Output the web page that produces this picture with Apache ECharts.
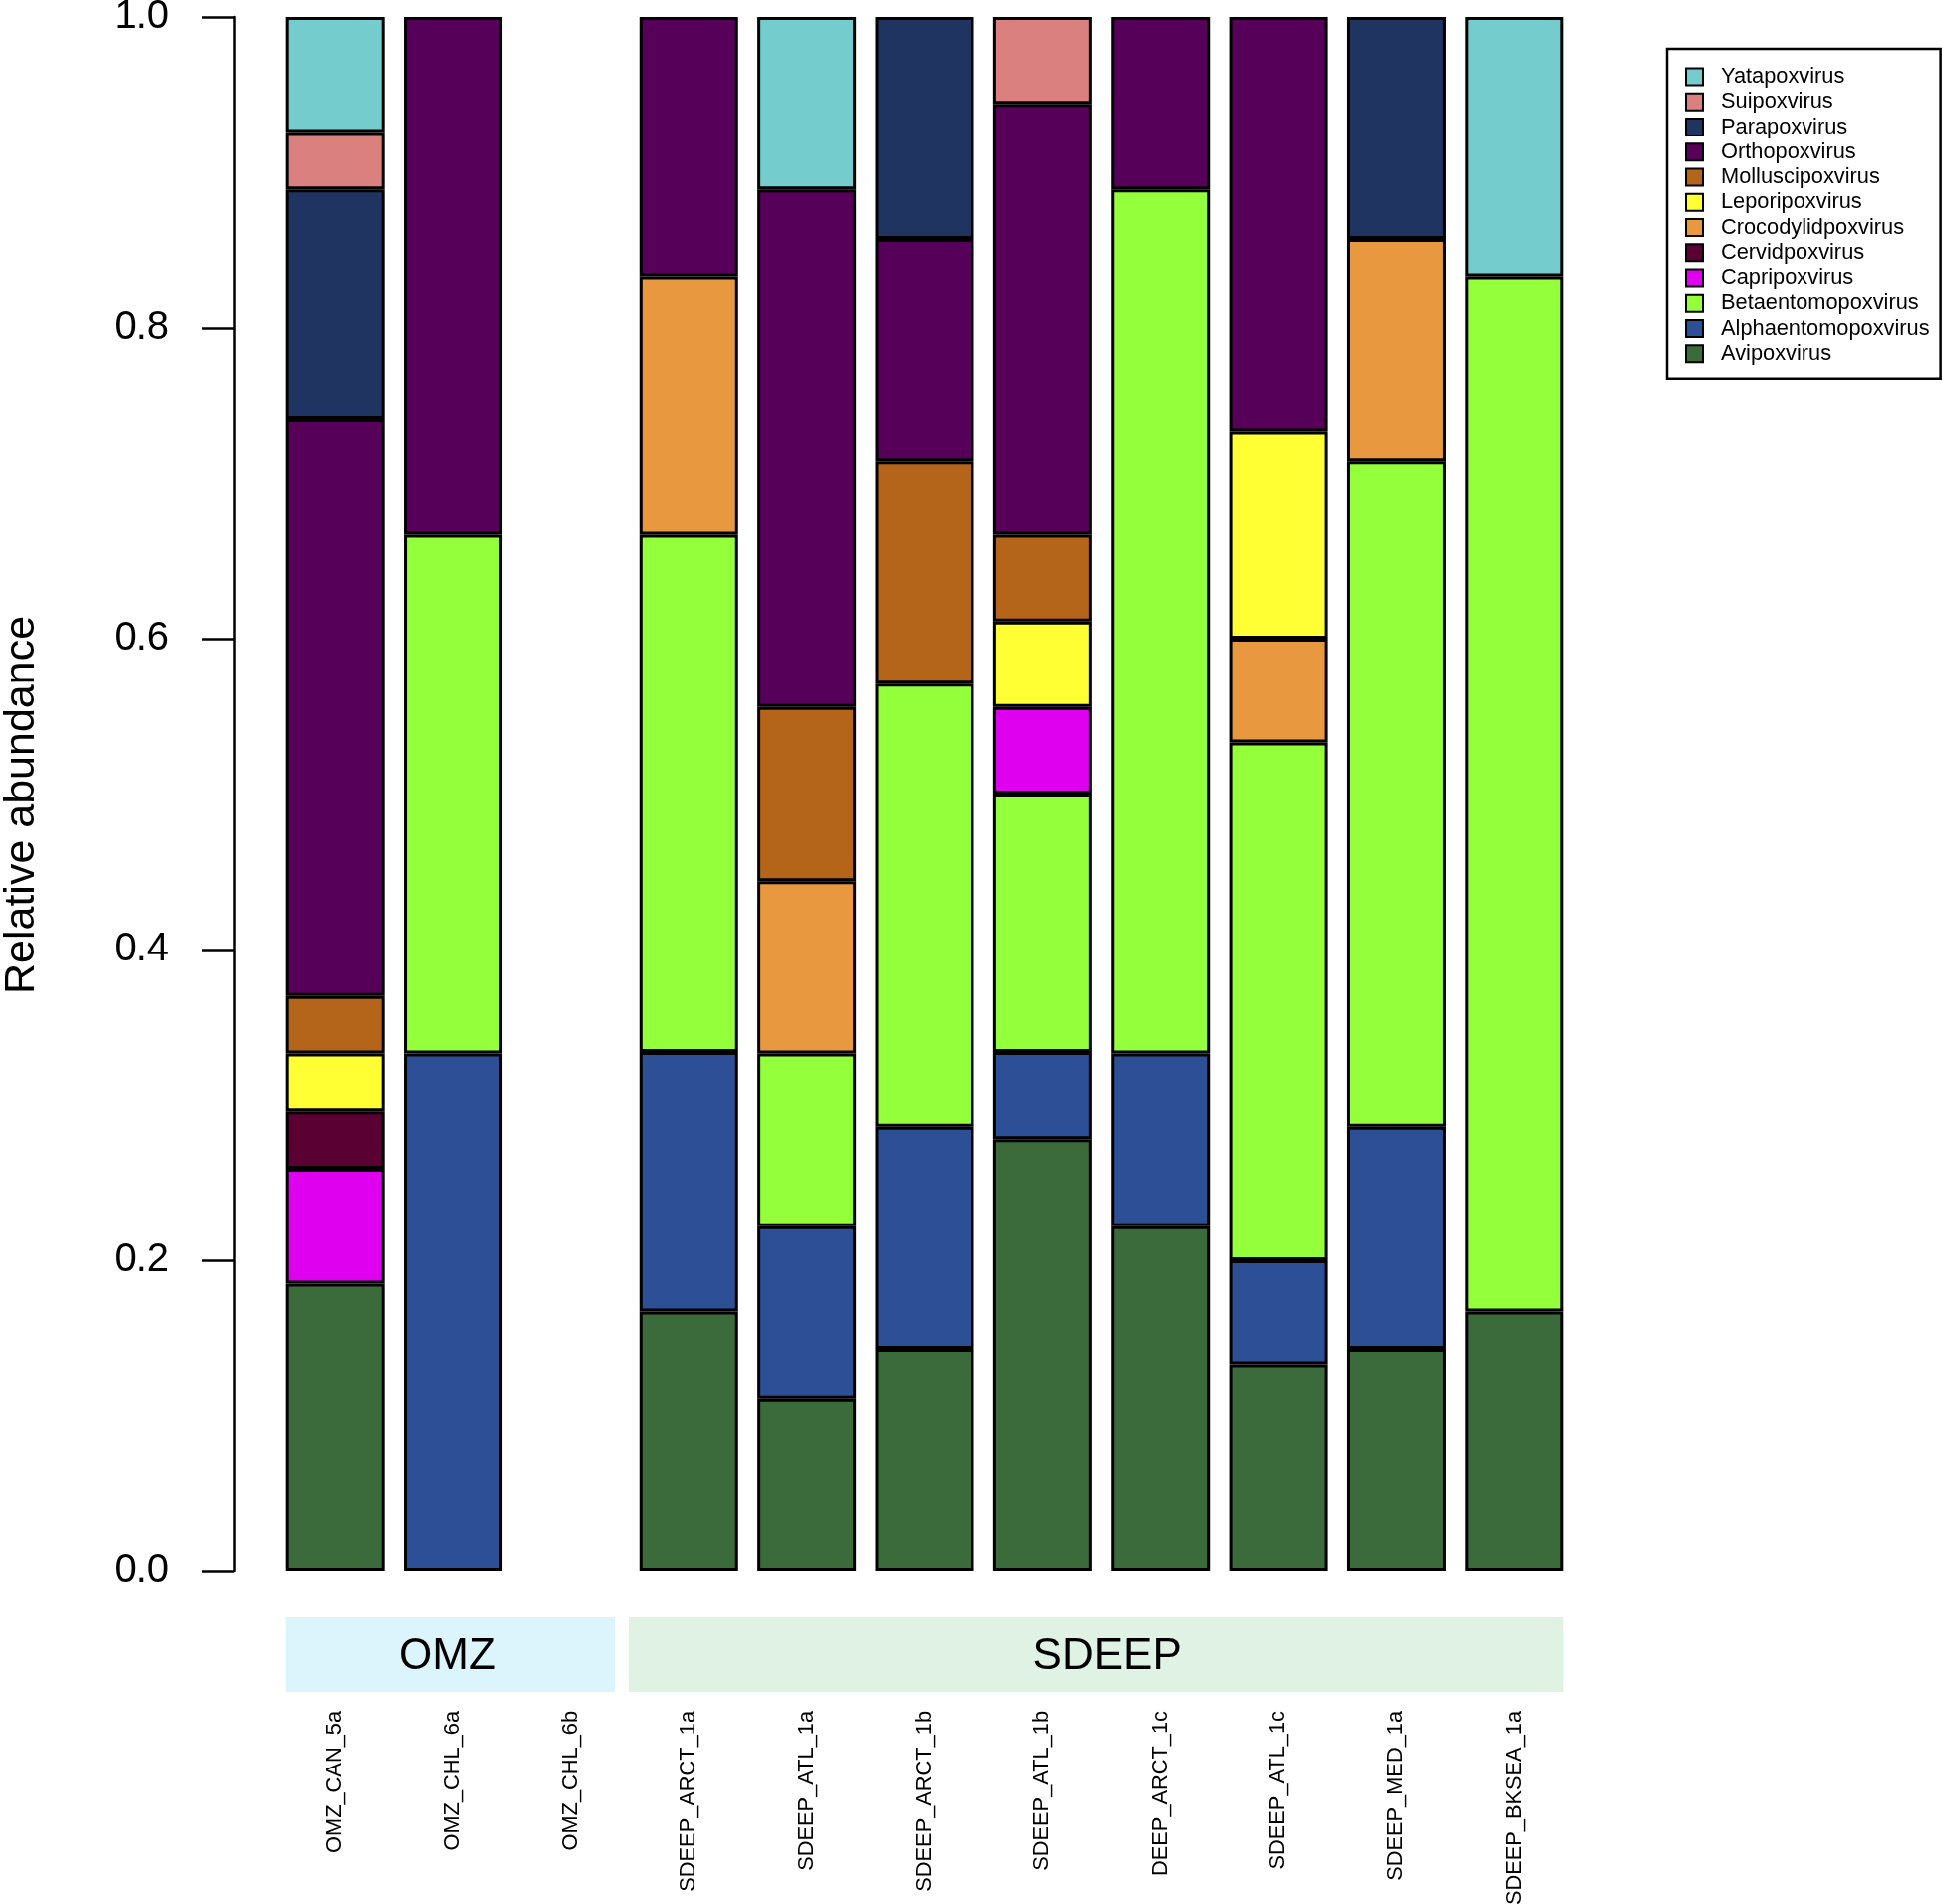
<!DOCTYPE html>
<html>
<head>
<meta charset="utf-8">
<script src="https://cdn.jsdelivr.net/npm/echarts@6/dist/echarts.min.js"></script>
<style>html,body{margin:0;padding:0;background:#fff;}#main{width:1950px;height:1911px;}</style>
</head>
<body>
<div id="main"></div>
<script>
// ---- data ----
const samples = ['OMZ_CAN_5a','OMZ_CHL_6a','OMZ_CHL_6b','SDEEP_ARCT_1a','SDEEP_ATL_1a','SDEEP_ARCT_1b','SDEEP_ATL_1b','DEEP_ARCT_1c','SDEEP_ATL_1c','SDEEP_MED_1a','SDEEP_BKSEA_1a'];
const groups = ['OMZ','SDEEP'];
const groupOf = ['OMZ','OMZ','OMZ','SDEEP','SDEEP','SDEEP','SDEEP','SDEEP','SDEEP','SDEEP','SDEEP'];
const yTicks = [0, 0.2, 0.4, 0.6, 0.8, 1.0];

// stacked from bottom to top
const taxa = ['Avipoxvirus','Alphaentomopoxvirus','Betaentomopoxvirus','Capripoxvirus','Cervidpoxvirus','Crocodylidpoxvirus','Leporipoxvirus','Molluscipoxvirus','Orthopoxvirus','Parapoxvirus','Suipoxvirus','Yatapoxvirus'];
const avipox       = [0.185, null,  null, 0.167, 0.111, 0.143, 0.278, 0.222, 0.133, 0.143, 0.167];
const alphaento    = [null,  0.333, null, 0.167, 0.111, 0.143, 0.056, 0.111, 0.067, 0.143, null];
const betaento     = [null,  0.334, null, 0.333, 0.111, 0.285, 0.166, 0.556, 0.333, 0.428, 0.666];
const capripox     = [0.074, null,  null, null,  null,  null,  0.056, null,  null,  null,  null];
const cervidpox    = [0.037, null,  null, null,  null,  null,  null,  null,  null,  null,  null];
const crocodylid   = [null,  null,  null, 0.166, 0.111, null,  null,  null,  0.067, 0.143, null];
const leporipox    = [0.037, null,  null, null,  null,  null,  0.055, null,  0.133, null,  null];
const molluscipox  = [0.037, null,  null, null,  0.112, 0.143, 0.056, null,  null,  null,  null];
const orthopox     = [0.371, 0.333, null, 0.167, 0.333, 0.143, 0.277, 0.111, 0.267, null,  null];
const parapox      = [0.148, null,  null, null,  null,  0.143, null,  null,  null,  0.143, null];
const suipox       = [0.037, null,  null, null,  null,  null,  0.056, null,  null,  null,  null];
const yatapox      = [0.074, null,  null, null,  0.111, null,  null,  null,  null,  null,  0.167];
const taxaValues = [avipox, alphaento, betaento, capripox, cervidpox, crocodylid, leporipox, molluscipox, orthopox, parapox, suipox, yatapox];
const taxaColors = ['#3B6A3B','#2C4F96','#94FF3B','#E000F0','#5B0033','#E8993F','#FFFF33','#B5651A','#560059','#1F3461','#DA8180','#74CCCC'];

const FONT = '"Liberation Sans", Arial, Helvetica, sans-serif';
const chart = echarts.init(document.getElementById('main'), null, {renderer: 'canvas'});

const series = taxa.map((name, i) => ({
  name: name,
  type: 'bar',
  stack: 'total',
  barWidth: 99,
  data: taxaValues[i],
  itemStyle: {color: taxaColors[i], borderColor: '#000', borderWidth: 3},
  emphasis: {disabled: true}
}));

chart.setOption({
  animation: false,
  backgroundColor: '#fff',
  grid: {left: 277, right: 371, top: 17, bottom: 334, containLabel: false, outerBoundsMode: 'none'},
  xAxis: {
    type: 'category',
    data: samples,
    boundaryGap: true,
    axisLine: {show: false},
    axisTick: {show: false},
    axisLabel: {rotate: 90, margin: 140, fontSize: 21.8, color: '#000', fontFamily: FONT, interval: 0}
  },
  yAxis: {
    type: 'value',
    min: 0, max: 1, interval: 0.2,
    offset: 42,
    name: 'Relative abundance',
    nameLocation: 'middle',
    nameGap: 191,
    nameTextStyle: {fontSize: 43, color: '#000', fontFamily: FONT, padding: [0, 22, 0, 0]},
    axisLine: {show: true, lineStyle: {color: '#000', width: 2.5}},
    axisTick: {show: true, length: 32, lineStyle: {color: '#000', width: 2.5}},
    axisLabel: {margin: 65, fontSize: 40, color: '#000', fontFamily: FONT, formatter: v => v.toFixed(1)},
    splitLine: {show: false}
  },
  legend: {
    orient: 'vertical',
    left: 1673, top: 49,
    data: taxa.slice().reverse(),
    icon: 'rect',
    itemWidth: 17, itemHeight: 17, itemGap: 3.25,
    padding: [17, 11, 14, 18],
    borderColor: '#000', borderWidth: 2.5,
    itemStyle: {borderColor: '#000', borderWidth: 2},
    textStyle: {fontSize: 21.8, color: '#000', fontFamily: FONT, lineHeight: 21, padding: [0, 0, 0, 13]},
    selectedMode: false
  },
  series: series
});

// group strips below the axis, placed from the category scale
function addStrips() {
  const bw = 99;
  const xs = samples.map(s => chart.convertToPixel({xAxisIndex: 0}, s));
  const y0 = chart.convertToPixel({yAxisIndex: 0}, 0);
  const graphics = [];
  const fills = {OMZ: '#DCF4FC', SDEEP: '#DFF2E3'};
  const textShift = {OMZ: -3, SDEEP: 11};
  groups.forEach((g, gi) => {
    const idx = groupOf.map((v, i) => v === g ? i : -1).filter(i => i >= 0);
    const first = idx[0], last = idx[idx.length - 1];
    let left = xs[first] - bw / 2;
    let right = xs[last] + bw / 2;
    if (gi === 0 && last + 1 < xs.length) right = (xs[last] + xs[last + 1]) / 2 - 15;
    if (gi > 0) left = (xs[first - 1] + xs[first]) / 2 - 1;
    const top = y0 + 46, h = 75;
    graphics.push({type: 'rect', shape: {x: left, y: top, width: right - left, height: h}, style: {fill: fills[g]}, silent: true});
    graphics.push({type: 'text', x: (left + right) / 2 + textShift[g], y: top + h / 2 + 2, style: {text: g, fontSize: 44, fontFamily: FONT, fill: '#000', align: 'center', verticalAlign: 'middle'}, silent: true});
  });
  chart.setOption({graphic: graphics});
}
addStrips();
</script>
</body>
</html>
